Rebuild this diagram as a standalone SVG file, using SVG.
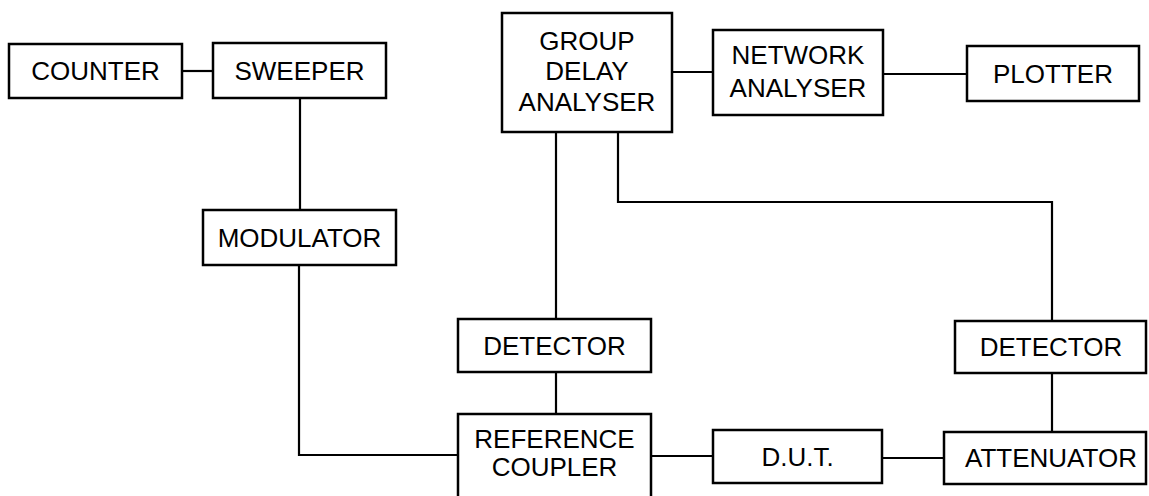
<svg xmlns="http://www.w3.org/2000/svg" width="1149" height="496" viewBox="0 0 1149 496">
<style>
.box{fill:#fff;stroke:#000;stroke-width:2.5}
.lbl{font-family:"Liberation Sans",Arial,sans-serif;font-size:26px;fill:#000;text-anchor:middle}
.conn{fill:none;stroke:#000;stroke-width:2.2}
</style>
<rect width="1149" height="496" fill="#fff"/>
<g id="connectors">
<line class="conn" x1="182" y1="71" x2="213" y2="71"/>
<line class="conn" x1="300" y1="98" x2="300" y2="210"/>
<polyline class="conn" points="299,265 299,455 458,455"/>
<line class="conn" x1="672" y1="72" x2="713" y2="72"/>
<line class="conn" x1="883" y1="74" x2="967" y2="74"/>
<line class="conn" x1="556" y1="132" x2="556" y2="319"/>
<polyline class="conn" points="618,132 618,202 1052,202 1052,321"/>
<line class="conn" x1="556" y1="372" x2="556" y2="414"/>
<line class="conn" x1="651" y1="456" x2="713" y2="456"/>
<line class="conn" x1="882" y1="458" x2="944" y2="458"/>
<line class="conn" x1="1052" y1="373" x2="1052" y2="432"/>
</g>
<g id="counter"><rect class="box" x="9" y="44" width="173" height="54"/><text class="lbl" x="95.5" y="80">COUNTER</text></g>
<g id="sweeper"><rect class="box" x="213" y="43" width="173" height="55"/><text class="lbl" x="299.5" y="80">SWEEPER</text></g>
<g id="modulator"><rect class="box" x="203" y="210" width="193" height="55"/><text class="lbl" x="299.5" y="247">MODULATOR</text></g>
<g id="group-delay-analyser"><rect class="box" x="502" y="13" width="170" height="119"/><text class="lbl" x="587" y="50">GROUP</text><text class="lbl" x="587" y="80">DELAY</text><text class="lbl" x="587" y="111">ANALYSER</text></g>
<g id="network-analyser"><rect class="box" x="713" y="30" width="170" height="85"/><text class="lbl" x="798" y="64">NETWORK</text><text class="lbl" x="798" y="97">ANALYSER</text></g>
<g id="plotter"><rect class="box" x="967" y="46" width="172" height="55"/><text class="lbl" x="1053" y="83">PLOTTER</text></g>
<g id="detector-left"><rect class="box" x="458" y="319" width="193" height="53"/><text class="lbl" x="554.5" y="355">DETECTOR</text></g>
<g id="reference-coupler"><rect class="box" x="458" y="414" width="193" height="90"/><text class="lbl" x="554.5" y="448">REFERENCE</text><text class="lbl" x="554.5" y="476">COUPLER</text></g>
<g id="dut"><rect class="box" x="713" y="430" width="169" height="53"/><text class="lbl" x="797.5" y="466">D.U.T.</text></g>
<g id="attenuator"><rect class="box" x="944" y="432" width="202" height="52"/><text class="lbl" x="1051" y="467">ATTENUATOR</text></g>
<g id="detector-right"><rect class="box" x="955" y="321" width="191" height="52"/><text class="lbl" x="1051" y="356">DETECTOR</text></g>
</svg>
